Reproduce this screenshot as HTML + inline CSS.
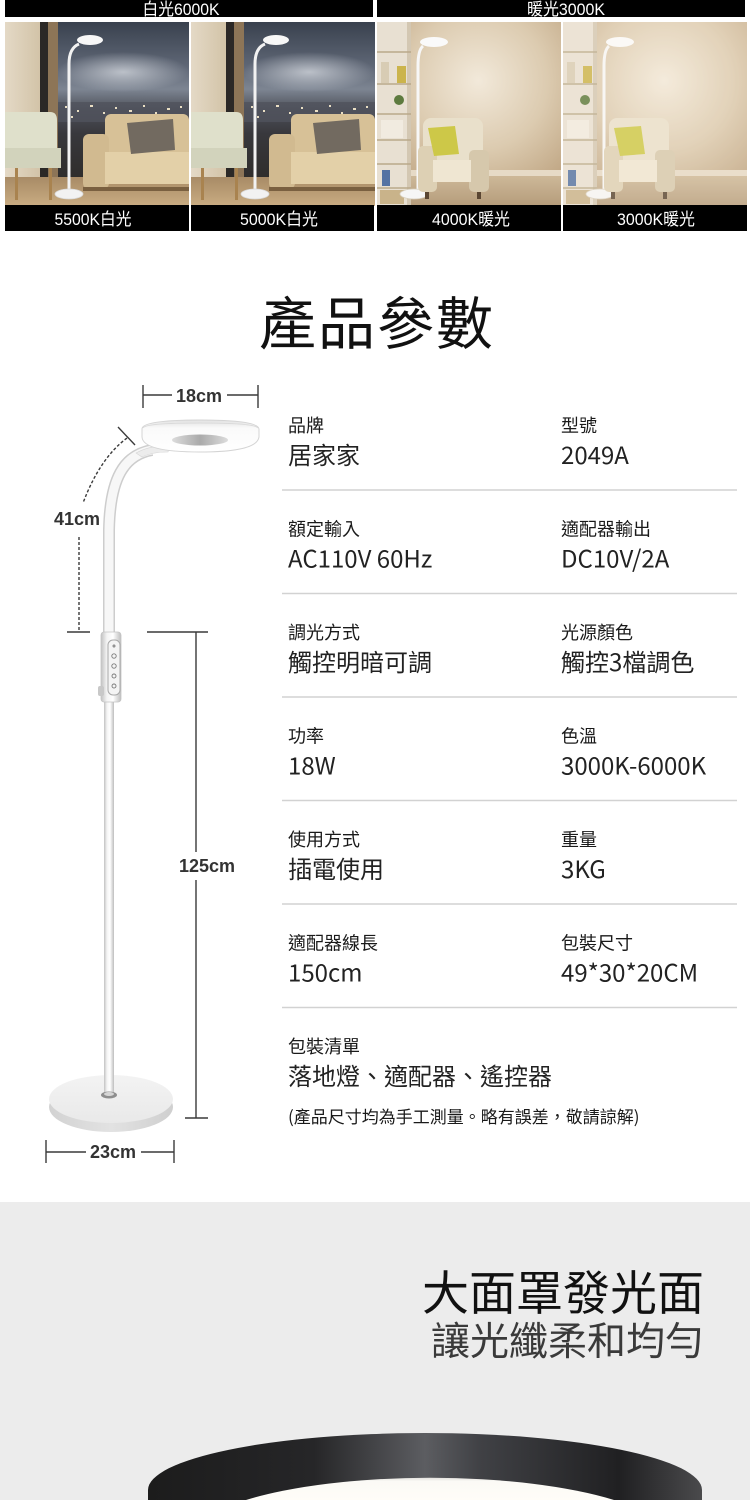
<!DOCTYPE html>
<html><head><meta charset="utf-8">
<style>
html,body{margin:0;padding:0;background:#fff;width:750px;height:1500px;overflow:hidden;}
svg{display:block;}
.cj{font-family:"Noto Sans CJK TC","Noto Sans CJK SC",sans-serif;}
.ar{font-family:"Liberation Sans","Noto Sans CJK TC",sans-serif;}
</style></head><body>
<svg width="750" height="1500" viewBox="0 0 750 1500" xmlns="http://www.w3.org/2000/svg" overflow="hidden">
<defs>
  <linearGradient id="nwall" x1="0" y1="0" x2="1" y2="0"><stop offset="0" stop-color="#e4d9c6"/><stop offset="1" stop-color="#d2c3a7"/></linearGradient>
  <linearGradient id="nsky" x1="0" y1="0" x2="0" y2="1">
    <stop offset="0" stop-color="#39414e"/><stop offset="0.28" stop-color="#5f6776"/><stop offset="0.42" stop-color="#7d8592"/>
    <stop offset="0.55" stop-color="#4d5059"/><stop offset="0.7" stop-color="#38383c"/><stop offset="1" stop-color="#2e2c2a"/>
  </linearGradient>
  <radialGradient id="nglow" cx="0.5" cy="0.5" r="0.5"><stop offset="0" stop-color="#d8dce2" stop-opacity="0.75"/><stop offset="1" stop-color="#d8dce2" stop-opacity="0"/></radialGradient>
  <linearGradient id="nfloor" x1="0" y1="0" x2="0" y2="1"><stop offset="0" stop-color="#a88b66"/><stop offset="1" stop-color="#c9ac82"/></linearGradient>
  <radialGradient id="wwall" cx="0.55" cy="0.32" r="0.75"><stop offset="0" stop-color="#f2e9da"/><stop offset="0.5" stop-color="#dccbb0"/><stop offset="1" stop-color="#b99d79"/></radialGradient>
  <linearGradient id="wfloor" x1="0" y1="0" x2="0" y2="1"><stop offset="0" stop-color="#cdb898"/><stop offset="1" stop-color="#b59c7b"/></linearGradient>
  <linearGradient id="poleGrad" x1="0" y1="0" x2="1" y2="0">
    <stop offset="0" stop-color="#c2c2c2"/><stop offset="0.3" stop-color="#f4f4f4"/><stop offset="0.6" stop-color="#ffffff"/><stop offset="1" stop-color="#bdbdbd"/>
  </linearGradient>
  <linearGradient id="baseTop" x1="0" y1="0" x2="0" y2="1"><stop offset="0" stop-color="#f3f3f3"/><stop offset="1" stop-color="#e9e9e9"/></linearGradient>
  <linearGradient id="baseSide" x1="0" y1="0" x2="1" y2="0"><stop offset="0" stop-color="#d2d2d2"/><stop offset="0.5" stop-color="#e2e2e2"/><stop offset="1" stop-color="#cfcfcf"/></linearGradient>
  <linearGradient id="headGrad" x1="0" y1="0" x2="0" y2="1"><stop offset="0" stop-color="#e2e2e2"/><stop offset="0.25" stop-color="#fafafa"/><stop offset="1" stop-color="#ffffff"/></linearGradient>
  <linearGradient id="holeGrad" x1="0" y1="0" x2="1" y2="0"><stop offset="0" stop-color="#dcdcdc"/><stop offset="0.5" stop-color="#aaaaaa"/><stop offset="1" stop-color="#dcdcdc"/></linearGradient>
  <linearGradient id="ringGrad" x1="0" y1="0" x2="1" y2="0">
    <stop offset="0" stop-color="#1c1c1c"/><stop offset="0.3" stop-color="#262628"/><stop offset="0.5" stop-color="#5c5d61"/>
    <stop offset="0.6" stop-color="#404145"/><stop offset="0.85" stop-color="#202022"/><stop offset="1" stop-color="#4a4a4c"/>
  </linearGradient>
  <linearGradient id="innerGrad" x1="0" y1="0" x2="0" y2="1"><stop offset="0" stop-color="#e4e2de"/><stop offset="0.15" stop-color="#fbfaf6"/><stop offset="1" stop-color="#fffdf8"/></linearGradient>

  <clipPath id="c1"><rect x="0" y="0" width="184" height="184"/></clipPath>

  <g id="night">
    <rect width="184" height="184" fill="#cdbd9f"/>
    <rect x="0" y="0" width="36" height="160" fill="url(#nwall)"/>
    <rect x="53" y="0" width="131" height="160" fill="url(#nsky)"/>
    <ellipse cx="118" cy="50" rx="66" ry="20" fill="url(#nglow)"/>
    <rect x="53" y="80" width="131" height="20" fill="#50535c" opacity="0.8"/>
    <g fill="#eadfc4">
      <rect x="60" y="84" width="2" height="2"/><rect x="72" y="88" width="2" height="2"/><rect x="85" y="83" width="3" height="2"/>
      <rect x="98" y="90" width="2" height="2"/><rect x="110" y="85" width="2" height="2"/><rect x="124" y="88" width="3" height="2"/>
      <rect x="138" y="83" width="2" height="2"/><rect x="150" y="90" width="2" height="2"/><rect x="162" y="86" width="3" height="2"/>
      <rect x="175" y="84" width="2" height="2"/><rect x="66" y="94" width="2" height="2"/><rect x="118" y="95" width="2" height="2"/><rect x="146" y="95" width="2" height="2"/>
    </g>
    <rect x="35" y="0" width="8" height="162" fill="#2b2826"/>
    <rect x="43" y="0" width="10" height="162" fill="#8d7557"/>
    <rect x="0" y="155" width="184" height="29" fill="url(#nfloor)"/>
    <path d="M0 90 L45 90 Q52 90 52 98 L52 140 L0 140 Z" fill="#dfe0cb"/>
    <rect x="0" y="126" width="56" height="20" fill="#d2d3bc"/>
    <rect x="10" y="146" width="3" height="32" fill="#a9834f"/>
    <rect x="44" y="146" width="3" height="32" fill="#a9834f"/>
    <rect x="100" y="92" width="84" height="45" rx="6" fill="#d7c197"/>
    <rect x="78" y="112" width="26" height="55" rx="6" fill="#d1ba90"/>
    <rect x="100" y="130" width="84" height="32" fill="#e3d0a8"/>
    <path d="M122 101 L168 97 L170 128 L126 132 Z" fill="#726a60"/>
    <rect x="78" y="165" width="106" height="4" fill="#7a6040"/>
    <path d="M74 22 Q64 26 64 42 L64 170" stroke="#f2f2f2" stroke-width="3" fill="none"/>
    <ellipse cx="85" cy="18" rx="13" ry="5" fill="#f7f7f7"/>
    <ellipse cx="64" cy="172" rx="14" ry="5" fill="#f2f2f2" stroke="#d8d8d8" stroke-width="0.8"/>
  </g>

  <g id="warm">
    <rect width="184" height="184" fill="url(#wwall)"/>
    <rect x="0" y="148" width="184" height="6" fill="#e6dac6"/>
    <rect x="0" y="154" width="184" height="30" fill="url(#wfloor)"/>
    <rect x="0" y="0" width="34" height="184" fill="#e8e0d2"/>
    <rect x="30" y="0" width="4" height="184" fill="#d3c7b2"/>
    <g stroke="#b9a98a" stroke-width="1.5">
      <line x1="0" y1="30" x2="34" y2="30"/><line x1="0" y1="62" x2="34" y2="62"/><line x1="0" y1="92" x2="34" y2="92"/>
      <line x1="0" y1="118" x2="34" y2="118"/><line x1="0" y1="142" x2="34" y2="142"/><line x1="0" y1="166" x2="34" y2="166"/>
    </g>
    <rect x="20" y="44" width="9" height="17" fill="#cbb44c"/>
    <rect x="4" y="40" width="8" height="21" fill="#d8ccb4"/>
    <circle cx="22" cy="78" r="5" fill="#5d7a3e"/>
    <rect x="4" y="98" width="22" height="18" fill="#f1ebe0"/>
    <rect x="5" y="148" width="8" height="16" fill="#5573a3"/>
    <rect x="3" y="168" width="24" height="14" fill="#c9b38a"/>
    <path d="M46 24 Q41 28 41 44 L41 170" stroke="#f7f7f7" stroke-width="3" fill="none"/>
    <ellipse cx="57" cy="20" rx="14" ry="5" fill="#fafafa"/>
    <ellipse cx="37" cy="172" rx="14" ry="5" fill="#f6f6f6" stroke="#d8d0c0" stroke-width="0.8"/>
    <rect x="46" y="96" width="60" height="44" rx="8" fill="#e9e0cb"/>
    <rect x="41" y="124" width="19" height="46" rx="5" fill="#ddd0b4"/>
    <rect x="92" y="128" width="20" height="42" rx="5" fill="#d6c8ac"/>
    <rect x="56" y="138" width="38" height="22" fill="#efe6d2"/>
    <path d="M51 106 L78 104 L82 132 L57 134 Z" fill="#cdc848"/>
    <rect x="48" y="170" width="4" height="7" fill="#5a4632"/><rect x="100" y="170" width="4" height="7" fill="#5a4632"/>
  </g>
</defs>

<!-- ===== Top photo strip ===== -->
<rect x="5" y="0" width="368" height="17" fill="#000"/>
<rect x="377" y="0" width="368" height="17" fill="#000"/>
<text x="181" y="15" text-anchor="middle" class="ar" font-size="17" fill="#fff" textLength="77" lengthAdjust="spacingAndGlyphs">白光6000K</text>
<text x="566" y="15" text-anchor="middle" class="ar" font-size="17" fill="#fff" textLength="78" lengthAdjust="spacingAndGlyphs">暖光3000K</text>

<g transform="translate(5,22)" clip-path="url(#c1)"><use href="#night"/></g>
<g transform="translate(191,22)" clip-path="url(#c1)"><use href="#night"/></g>
<g transform="translate(377,22)" clip-path="url(#c1)"><use href="#warm"/></g>
<g transform="translate(563,22)" clip-path="url(#c1)"><use href="#warm"/><rect width="184" height="184" fill="#fff4e4" opacity="0.18"/></g>

<rect x="5" y="205" width="184" height="26" fill="#000"/>
<rect x="191" y="205" width="183" height="26" fill="#000"/>
<rect x="377" y="205" width="184" height="26" fill="#000"/>
<rect x="563" y="205" width="184" height="26" fill="#000"/>
<text x="93" y="225" text-anchor="middle" class="ar" font-size="17" fill="#fff" textLength="77" lengthAdjust="spacingAndGlyphs">5500K白光</text>
<text x="279" y="225" text-anchor="middle" class="ar" font-size="17" fill="#fff" textLength="78" lengthAdjust="spacingAndGlyphs">5000K白光</text>
<text x="471" y="225" text-anchor="middle" class="ar" font-size="17" fill="#fff" textLength="78" lengthAdjust="spacingAndGlyphs">4000K暖光</text>
<text x="656" y="225" text-anchor="middle" class="ar" font-size="17" fill="#fff" textLength="78" lengthAdjust="spacingAndGlyphs">3000K暖光</text>

<!-- ===== Title ===== -->
<text x="377" y="344" text-anchor="middle" class="cj" font-size="57" font-weight="400" fill="#111" letter-spacing="2">產品參數</text>

<!-- ===== Lamp diagram ===== -->
<ellipse cx="111" cy="1107" rx="62" ry="25" fill="url(#baseSide)"/>
<ellipse cx="111" cy="1099" rx="62" ry="24" fill="url(#baseTop)"/>
<rect x="104" y="698" width="10" height="397" fill="url(#poleGrad)"/>
<ellipse cx="109" cy="1095" rx="8" ry="3.5" fill="#8e8e8e"/>
<ellipse cx="109" cy="1094" rx="5" ry="2" fill="#d6d6d6"/>
<path d="M152 450 C124 455 110 478 109 530 L109 636" stroke="#cdcdcd" stroke-width="12" fill="none"/>
<path d="M152 450 C124 455 110 478 109 530 L109 636" stroke="#f7f7f7" stroke-width="9" fill="none"/>
<path d="M136 453 Q150 445 170 446 L168 452 Q152 452 142 457 Z" fill="#ececec" stroke="#d6d6d6" stroke-width="0.6"/>
<path d="M142 429 Q142 420 200 420 Q258 420 259 429 L259 437 Q257 452 200 452 Q143 452 142 437 Z" fill="url(#headGrad)" stroke="#d4d4d4" stroke-width="1"/>
<path d="M143 428 Q145 423 200 423 Q255 423 258 428" stroke="#dadada" stroke-width="1" fill="none"/>
<ellipse cx="200" cy="440" rx="28" ry="5.5" fill="url(#holeGrad)"/>
<rect x="101" y="632" width="20" height="70" rx="3" fill="url(#poleGrad)" stroke="#c4c4c4" stroke-width="0.8"/>
<rect x="108" y="640" width="12" height="55" rx="5" fill="#f4f4f4" stroke="#a8a8a8" stroke-width="1"/>
<g stroke="#7a7a7a" stroke-width="0.9" fill="none">
  <circle cx="114" cy="646" r="1"/><circle cx="114" cy="656" r="2.2"/><circle cx="114" cy="666" r="2.2"/><circle cx="114" cy="676" r="2"/><circle cx="114" cy="686" r="2"/>
</g>
<rect x="98" y="686" width="6" height="10" rx="2" fill="#c8c8c8"/>

<g stroke="#3a3a3a" stroke-width="1.4" fill="none">
  <line x1="143" y1="385" x2="143" y2="408"/><line x1="258" y1="385" x2="258" y2="408"/>
  <line x1="143" y1="395" x2="172" y2="395"/><line x1="227" y1="395" x2="258" y2="395"/>
  <line x1="118" y1="427" x2="135" y2="445"/>
  <path d="M127 438 Q100 458 83 503" stroke-dasharray="3,2"/>
  <line x1="79" y1="537" x2="79" y2="632" stroke-dasharray="3,2"/>
  <line x1="67" y1="632" x2="90" y2="632"/>
  <line x1="147" y1="632" x2="208" y2="632"/>
  <line x1="196" y1="632" x2="196" y2="852"/><line x1="196" y1="880" x2="196" y2="1118"/>
  <line x1="185" y1="1118" x2="208" y2="1118"/>
  <line x1="46" y1="1140" x2="46" y2="1163"/><line x1="174" y1="1140" x2="174" y2="1163"/>
  <line x1="46" y1="1152" x2="86" y2="1152"/><line x1="141" y1="1152" x2="174" y2="1152"/>
</g>
<g class="ar" font-size="18" font-weight="bold" fill="#333" text-anchor="middle">
  <text x="199" y="402">18cm</text>
  <text x="77" y="525">41cm</text>
  <text x="207" y="872">125cm</text>
  <text x="113" y="1158">23cm</text>
</g>

<!-- ===== Parameter table ===== -->
<g stroke="#d2d2d2" stroke-width="1.5">
  <line x1="282" y1="490" x2="737" y2="490"/>
  <line x1="282" y1="593.5" x2="737" y2="593.5"/>
  <line x1="282" y1="697" x2="737" y2="697"/>
  <line x1="282" y1="800.5" x2="737" y2="800.5"/>
  <line x1="282" y1="904" x2="737" y2="904"/>
  <line x1="282" y1="1007.5" x2="737" y2="1007.5"/>
</g>
<g class="cj" font-size="18" font-weight="400" fill="#1a1a1a">
  <text x="288" y="432">品牌</text><text x="561" y="432">型號</text>
  <text x="288" y="535.5">額定輸入</text><text x="561" y="535.5">適配器輸出</text>
  <text x="288" y="639">調光方式</text><text x="561" y="639">光源顏色</text>
  <text x="288" y="742.5">功率</text><text x="561" y="742.5">色溫</text>
  <text x="288" y="846">使用方式</text><text x="561" y="846">重量</text>
  <text x="288" y="949.5">適配器線長</text><text x="561" y="949.5">包裝尺寸</text>
  <text x="288" y="1053">包裝清單</text>
</g>
<g class="cj" font-size="24" fill="#222">
  <text x="288" y="464">居家家</text><text x="561" y="464">2049A</text>
  <text x="288" y="567.5">AC110V 60Hz</text><text x="561" y="567.5">DC10V/2A</text>
  <text x="288" y="671">觸控明暗可調</text><text x="561" y="671">觸控3檔調色</text>
  <text x="288" y="774.5">18W</text><text x="561" y="774.5">3000K-6000K</text>
  <text x="288" y="878">插電使用</text><text x="561" y="878">3KG</text>
  <text x="288" y="981.5">150cm</text><text x="561" y="981.5">49*30*20CM</text>
  <text x="288" y="1085">落地燈、適配器、遙控器</text>
</g>
<text x="288" y="1123" class="cj" font-size="17" font-weight="400" fill="#1a1a1a">(產品尺寸均為手工測量。略有誤差，敬請諒解)</text>

<!-- ===== Bottom section ===== -->
<rect x="0" y="1202" width="750" height="298" fill="#ececec"/>
<text x="704" y="1310" text-anchor="end" class="cj" font-size="47" font-weight="400" fill="#111">大面罩發光面</text>
<text x="704" y="1355" text-anchor="end" class="cj" font-size="39" fill="#3a3a3a">讓光纖柔和均勻</text>

<path d="M148 1500 L148 1490 A277 57 0 0 1 702 1490 L702 1500 Z" fill="url(#ringGrad)"/>
<path d="M246 1500 A240 62 0 0 1 614 1500 Z" fill="url(#innerGrad)"/>
</svg>
</body></html>
